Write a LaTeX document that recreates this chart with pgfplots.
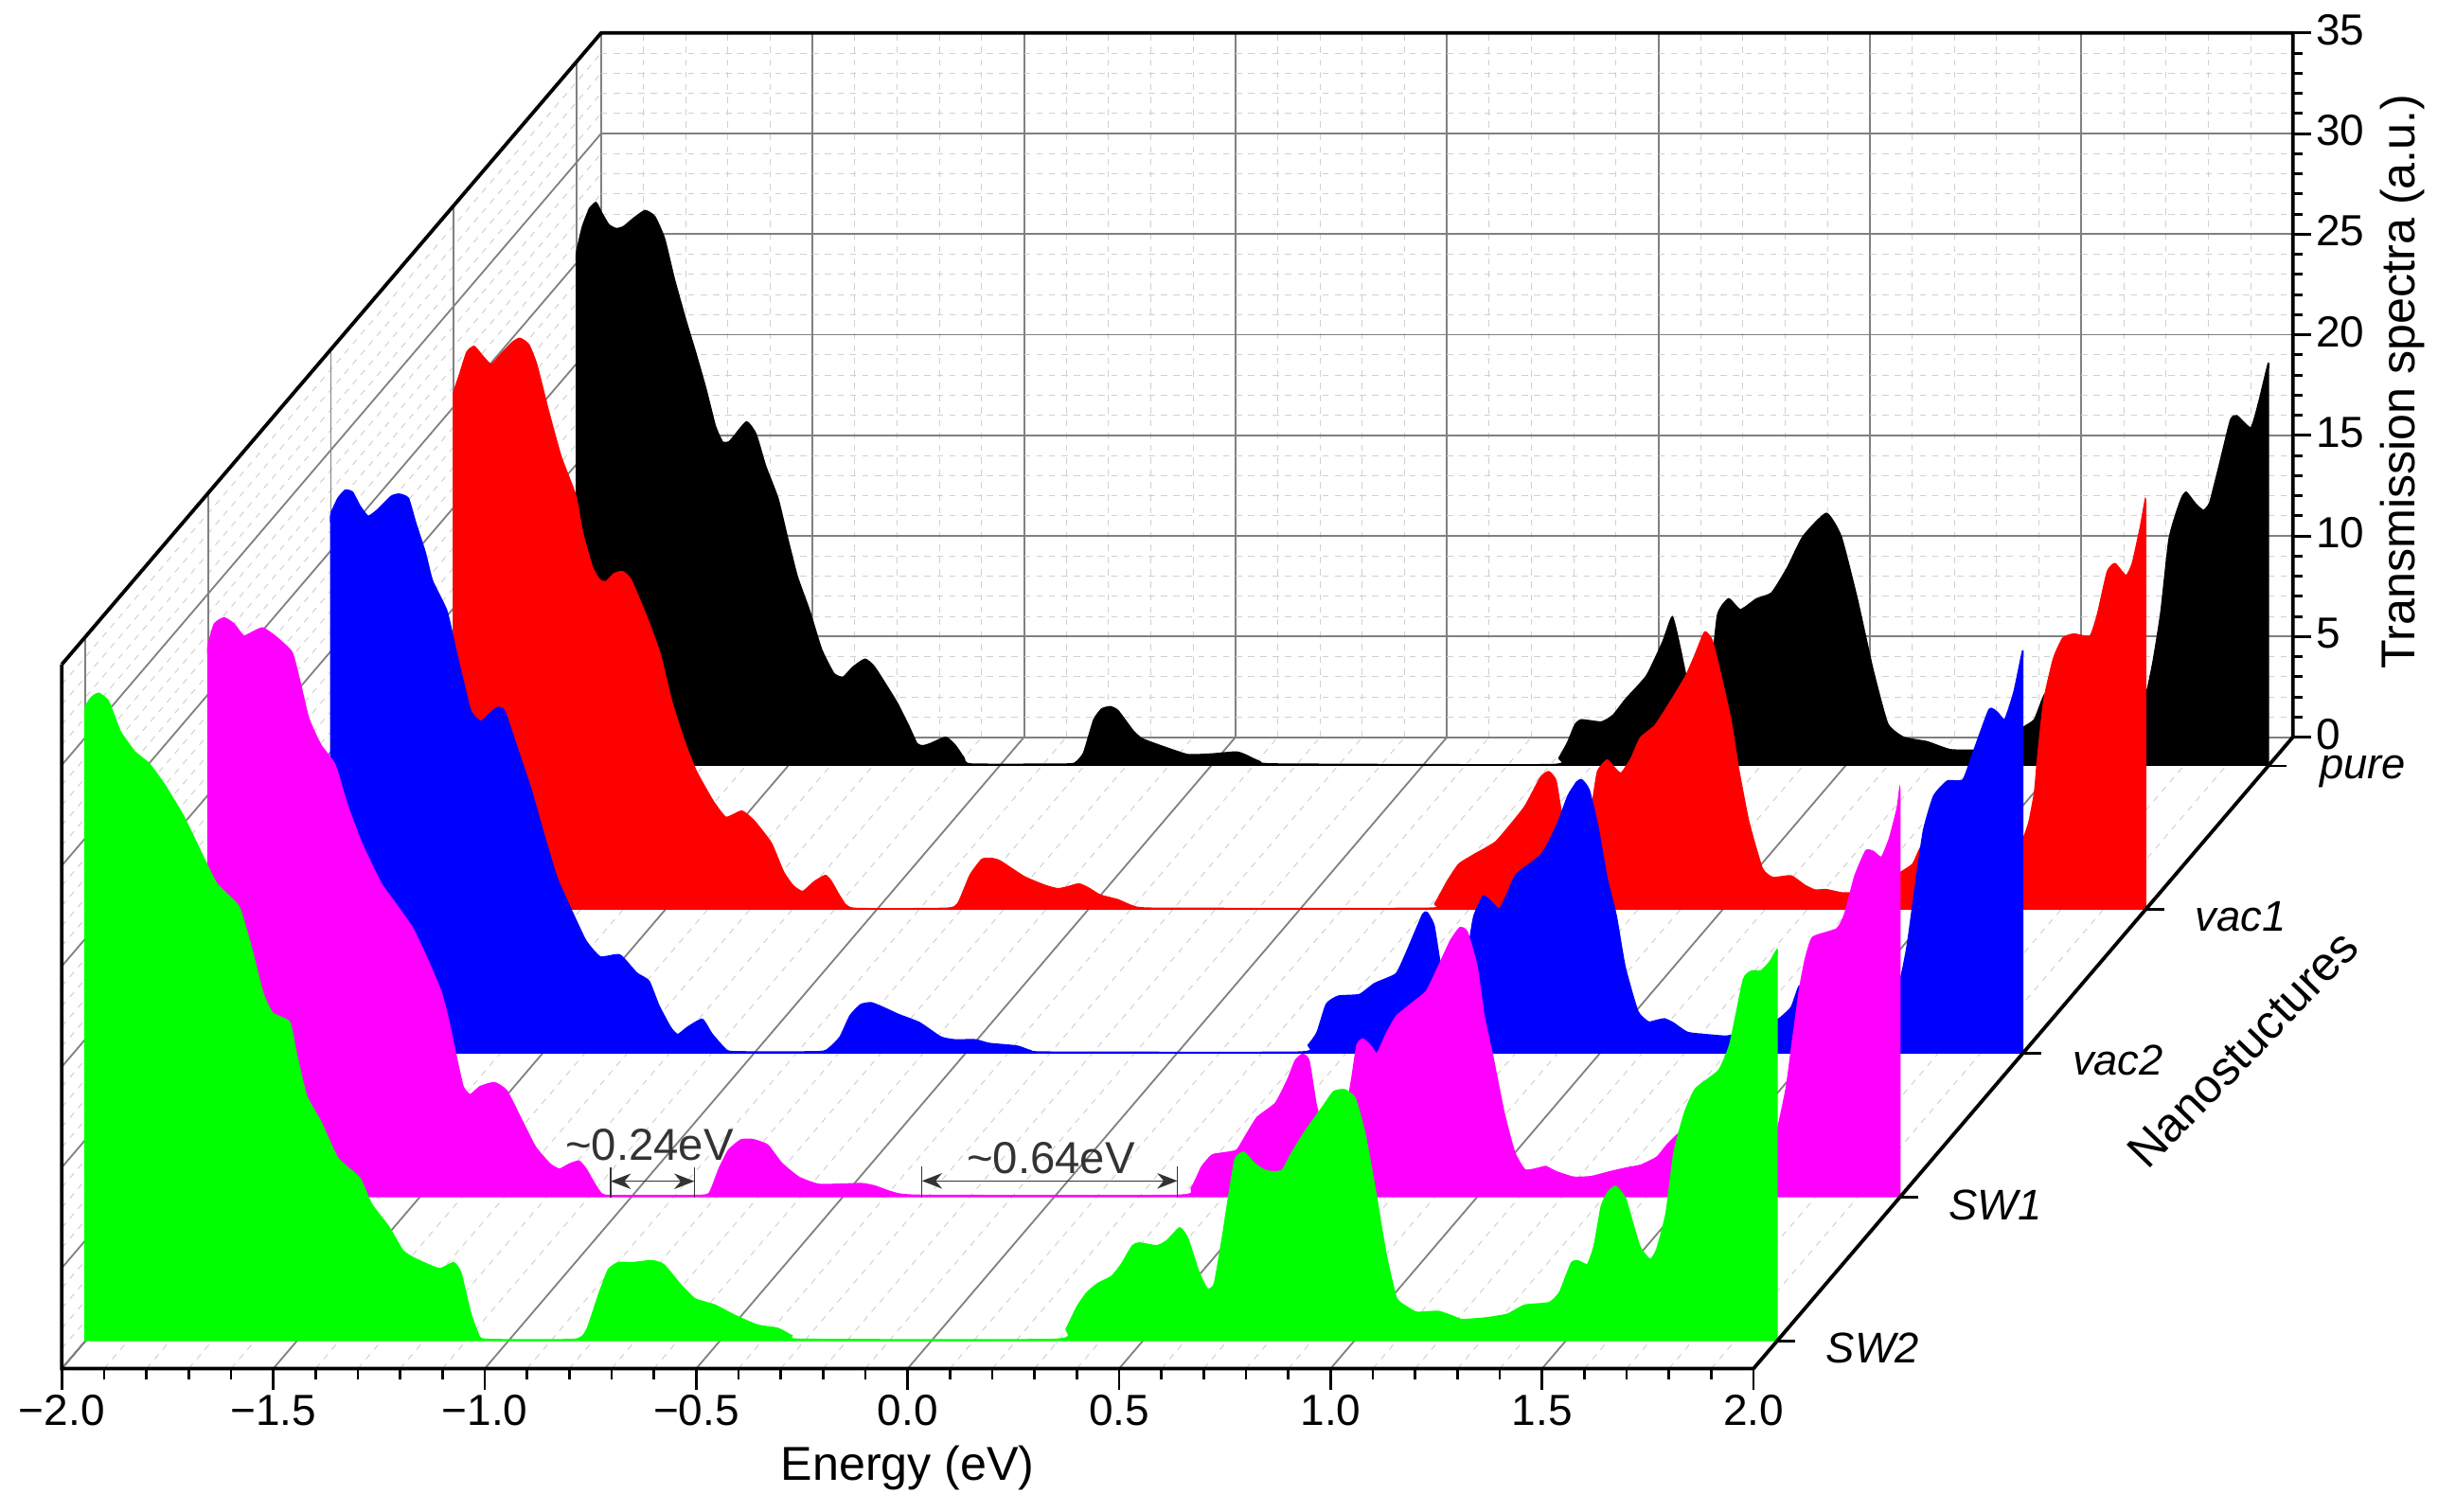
\documentclass[border=0pt]{standalone}
\usepackage{fontspec}
\setmainfont{Liberation Sans}
\usepackage{pgfplots}
\usepackage{pgfplotstable}
\pgfplotsset{compat=1.18}
\usetikzlibrary{arrows.meta}

\pgfplotstableread{
E T
-2 0
-2 20.4
-2 24.7
-2 25.5
-1.986 26.8
-1.969 27.7
-1.954 28.0
-1.941 27.5
-1.924 26.9
-1.906 26.7
-1.889 26.8
-1.866 27.2
-1.838 27.6
-1.815 27.3
-1.792 26.2
-1.769 24.2
-1.741 22.1
-1.718 20.5
-1.695 18.8
-1.672 16.9
-1.655 16.1
-1.640 16.1
-1.627 16.4
-1.598 17.1
-1.576 16.5
-1.553 14.9
-1.524 13.3
-1.501 11.3
-1.478 9.4
-1.449 7.7
-1.421 5.8
-1.392 4.6
-1.370 4.4
-1.347 4.9
-1.318 5.3
-1.295 4.9
-1.244 3.2
-1.215 2.0
-1.195 1.1
-1.181 1.0
-1.164 1.1
-1.127 1.42
-1.105 1.03
-1.084 0.4
-1.067 0.09
-0.841 0.09
-0.82 0.17
-0.801 0.64
-0.777 2.29
-0.758 2.83
-0.738 2.94
-0.72 2.75
-0.684 1.74
-0.662 1.34
-0.612 0.95
-0.555 0.56
-0.498 0.59
-0.441 0.69
-0.42 0.56
-0.384 0.21
-0.341 0.09
0.301 0.06
0.323 0.4
0.344 1.19
0.361 2.05
0.376 2.29
0.423 2.18
0.451 2.52
0.48 3.3
0.53 4.48
0.569 6.2
0.591 7.4
0.61 5.8
0.625 4.3
0.645 3.2
0.665 2.9
0.68 4.0
0.698 7.5
0.724 8.3
0.752 7.76
0.79 8.3
0.826 8.6
0.863 9.85
0.9 11.4
0.955 12.55
0.99 11.4
1.028 8.3
1.065 4.8
1.1 2.1
1.138 1.42
1.193 1.2
1.249 0.8
1.322 0.8
1.377 1.1
1.42 1.9
1.447 2.3
1.47 3.5
1.5 4.2
1.55 4.8
1.6 5.2
1.65 4.3
1.7 3.4
1.713 3.7
1.728 5.2
1.746 7.6
1.765 11.2
1.78 12.4
1.795 13.3
1.806 13.6
1.829 13.0
1.847 12.7
1.862 13.1
1.885 15
1.911 17.2
1.926 17.4
1.959 16.8
1.978 18.1
2 20
2 19.4
2 16
2 0
}\pure

\pgfplotstableread{
E T
-2 0
-2 20.6
-2 24.9
-2 25.7
-1.986 26.6
-1.969 27.7
-1.952 28
-1.935 27.6
-1.912 27.1
-1.889 27.6
-1.861 28.2
-1.844 28.4
-1.823 28.1
-1.804 27.1
-1.775 24.7
-1.746 22.5
-1.712 20.6
-1.695 18.7
-1.672 17
-1.655 16.4
-1.64 16.3
-1.621 16.7
-1.601 16.8
-1.581 16.4
-1.541 14.4
-1.512 12.7
-1.484 10.3
-1.455 8.4
-1.427 6.9
-1.387 5.4
-1.358 4.6
-1.341 4.7
-1.318 4.9
-1.289 4.4
-1.249 3.3
-1.221 1.9
-1.198 1.2
-1.175 0.9
-1.147 1.4
-1.121 1.7
-1.107 1.4
-1.084 0.57
-1.055 0.07
-0.836 0.07
-0.808 0.3
-0.779 1.72
-0.751 2.5
-0.729 2.55
-0.708 2.42
-0.651 1.64
-0.601 1.2
-0.572 1.04
-0.551 1.12
-0.522 1.28
-0.5 1.09
-0.472 0.73
-0.429 0.49
-0.394 0.18
-0.337 0.07
0.299 0.07
0.32 0.3
0.349 1.4
0.377 2.27
0.413 2.74
0.463 3.36
0.499 4.23
0.534 5.17
0.57 6.58
0.589 6.86
0.606 6.42
0.62 4.7
0.64 3.2
0.665 2.9
0.68 3.4
0.694 5.48
0.705 6.89
0.727 7.44
0.741 7.13
0.76 6.78
0.784 7.52
0.806 8.54
0.841 9.17
0.877 10.34
0.913 11.6
0.934 12.6
0.958 13.8
0.975 13.4
0.99 12.2
1.02 9.4
1.037 7.1
1.062 4.37
1.094 2.05
1.119 1.6
1.162 1.68
1.194 1.22
1.219 0.97
1.244 1.0
1.281 0.84
1.306 0.84
1.35 1.1
1.4 1.5
1.421 1.85
1.45 2.27
1.469 3.1
1.5 3.5
1.55 3.9
1.6 4.8
1.65 4.3
1.7 3.3
1.713 3.63
1.725 4.37
1.738 5.84
1.745 7.5
1.76 10.4
1.783 12.5
1.805 13.5
1.831 13.7
1.869 13.6
1.887 14.7
1.91 16.8
1.928 17.2
1.954 16.6
1.969 17.2
1.988 19.0
2 20.4
2 19.8
2 16.3
2 0
}\vacone

\pgfplotstableread{
E T
-2 0
-2 21.4
-2 26
-2 26.8
-1.983 27.6
-1.966 28.0
-1.949 27.9
-1.931 27.2
-1.912 26.7
-1.891 27.0
-1.857 27.7
-1.838 27.8
-1.817 27.6
-1.8 26.4
-1.777 24.9
-1.76 23.5
-1.726 22.0
-1.703 19.9
-1.686 18.4
-1.669 17.0
-1.646 16.5
-1.629 16.8
-1.606 17.2
-1.589 17.0
-1.56 15.2
-1.528 13.2
-1.494 10.7
-1.465 8.7
-1.431 7.1
-1.397 5.6
-1.363 4.8
-1.317 4.9
-1.277 4.0
-1.248 3.6
-1.225 2.4
-1.197 1.3
-1.18 0.94
-1.157 1.3
-1.122 1.7
-1.1 1.0
-1.071 0.3
-1.049 0.09
-0.846 0.09
-0.821 0.28
-0.796 0.82
-0.772 1.89
-0.747 2.43
-0.722 2.52
-0.69 2.25
-0.657 1.93
-0.608 1.53
-0.558 0.82
-0.525 0.68
-0.476 0.68
-0.443 0.5
-0.378 0.37
-0.345 0.14
-0.304 0.07
0.288 0.07
0.311 0.42
0.332 1.05
0.354 2.46
0.382 2.85
0.432 2.93
0.468 3.48
0.518 3.95
0.539 4.82
0.561 5.91
0.582 6.93
0.592 7.01
0.608 6.38
0.622 4.58
0.64 3.0
0.66 2.5
0.68 3.2
0.693 5.6
0.703 6.85
0.725 7.83
0.746 7.48
0.763 7.17
0.782 7.95
0.803 8.9
0.86 9.84
0.882 10.6
0.903 11.56
0.925 12.8
0.946 13.5
0.958 13.6
0.975 13.1
0.996 11.25
1.017 8.74
1.039 6.85
1.06 4.3
1.09 2.1
1.115 1.57
1.132 1.63
1.153 1.72
1.174 1.52
1.209 1.04
1.272 0.9
1.303 0.87
1.36 1.2
1.42 1.67
1.453 2.3
1.472 3.35
1.5 3.5
1.55 3.9
1.6 5
1.65 4.5
1.69 3.2
1.712 3.77
1.728 5.45
1.747 8.4
1.766 11.1
1.79 12.8
1.822 13.54
1.859 13.6
1.884 15.0
1.921 17.1
1.94 16.96
1.958 16.6
1.98 18
2 20
2 19.4
2 16
2 0
}\vactwo

\pgfplotstableread{
E T
-2 0
-2 21.9
-2 26.6
-2 27.4
-1.985 28.5
-1.962 28.8
-1.939 28.5
-1.916 27.9
-1.894 28.1
-1.871 28.3
-1.842 27.9
-1.802 27.1
-1.785 25.8
-1.762 23.8
-1.734 22.5
-1.7 21.5
-1.671 19.5
-1.637 17.6
-1.591 15.6
-1.557 14.6
-1.517 13.4
-1.483 11.9
-1.449 10.2
-1.431 8.75
-1.414 7.05
-1.397 5.5
-1.38 5.1
-1.357 5.5
-1.323 5.7
-1.294 5.3
-1.26 3.9
-1.226 2.5
-1.191 1.65
-1.169 1.4
-1.146 1.65
-1.123 1.8
-1.106 1.4
-1.077 0.37
-1.054 0.09
-0.849 0.09
-0.815 0.2
-0.792 1.4
-0.769 2.35
-0.74 2.85
-0.712 2.87
-0.677 2.6
-0.644 1.7
-0.603 1.0
-0.554 0.64
-0.455 0.68
-0.422 0.55
-0.381 0.25
-0.315 0.1
0.292 0.1
0.325 0.46
0.35 1.53
0.374 2.1
0.399 2.2
0.432 2.34
0.453 3.04
0.481 3.98
0.524 4.68
0.553 5.86
0.571 6.8
0.588 7.11
0.603 6.8
0.62 4.6
0.64 3.0
0.66 2.4
0.68 3.0
0.703 5.7
0.717 7.58
0.731 7.87
0.75 7.5
0.764 7.14
0.788 8.21
0.81 9
0.845 9.62
0.881 10.25
0.91 11.5
0.938 12.76
0.96 13.4
0.977 13.2
1.0 11.5
1.017 9
1.038 6.96
1.064 4.22
1.089 2.25
1.114 1.36
1.146 1.45
1.163 1.53
1.188 1.27
1.229 1.0
1.27 1.03
1.313 1.26
1.352 1.45
1.388 1.6
1.426 2.0
1.45 2.61
1.476 3.15
1.5 3.6
1.55 4.0
1.6 5
1.65 4.5
1.7 3.3
1.713 3.57
1.732 5.46
1.744 7.35
1.763 10.3
1.776 11.76
1.794 12.92
1.851 13.34
1.87 14.08
1.894 15.97
1.92 17.23
1.938 17.18
1.957 16.9
1.976 17.86
1.994 19.33
2 20.27
2 19.7
2 16.2
2 0
}\swone

\pgfplotstableread{
E T
-2 0
-2 25.2
-2 30.6
-2 31.5
-1.985 32
-1.968 32.2
-1.945 31.8
-1.917 30.3
-1.883 29.3
-1.849 28.7
-1.814 27.7
-1.768 26.1
-1.722 24.1
-1.688 22.7
-1.637 21.6
-1.608 19.6
-1.58 17.3
-1.557 16.3
-1.517 15.85
-1.5 14.2
-1.477 12.2
-1.443 10.9
-1.403 9.1
-1.351 8.1
-1.323 6.8
-1.283 5.7
-1.249 4.5
-1.22 4.1
-1.163 3.6
-1.129 3.9
-1.112 3.4
-1.089 1.4
-1.072 0.43
-1.054 0.09
-0.843 0.09
-0.814 0.57
-0.786 2.3
-0.763 3.55
-0.74 3.9
-0.706 3.9
-0.66 4.0
-0.632 3.8
-0.592 2.8
-0.558 2.1
-0.512 1.8
-0.466 1.3
-0.411 0.8
-0.362 0.63
-0.329 0.27
-0.304 0.09
0.295 0.09
0.32 0.63
0.345 1.7
0.369 2.42
0.394 2.86
0.427 3.22
0.451 3.85
0.476 4.74
0.492 4.88
0.534 4.74
0.558 5.0
0.588 5.63
0.607 5.1
0.632 3.49
0.653 2.59
0.67 2.86
0.69 5.28
0.703 7.07
0.719 9.03
0.739 9.39
0.763 8.86
0.788 8.5
0.813 8.41
0.832 8.53
0.854 9.39
0.887 10.5
0.928 11.7
0.952 12.4
0.977 12.5
1.002 12.1
1.026 10.3
1.051 7.42
1.075 4.38
1.1 2.15
1.125 1.7
1.149 1.43
1.199 1.48
1.232 1.25
1.256 1.07
1.314 1.16
1.363 1.34
1.404 1.79
1.461 1.91
1.486 2.42
1.514 3.88
1.53 3.99
1.552 3.81
1.568 4.74
1.585 6.71
1.601 7.42
1.619 7.69
1.642 7.07
1.675 4.74
1.7 4.06
1.716 4.56
1.738 6.35
1.757 9.39
1.782 11.36
1.806 12.5
1.839 13.06
1.864 13.5
1.889 14.76
1.921 17.98
1.941 18.4
1.962 18.4
1.984 18.87
2 19.45
2 18.9
2 15.6
2 0
}\swtwo

\definecolor{majgrid}{HTML}{808080}
\definecolor{mingrid}{HTML}{D0D0D0}
\definecolor{note}{HTML}{333333}
\definecolor{cblack}{RGB}{0,0,0}
\definecolor{cred}{RGB}{255,0,0}
\definecolor{cblue}{RGB}{0,0,255}
\definecolor{cmag}{RGB}{255,0,255}
\definecolor{cgreen}{RGB}{0,255,0}

\begin{document}
\begin{tikzpicture}
\begin{axis}[
    x={(136pt,0pt)}, y={(39.5pt,46.25pt)}, z={(0pt,6.47pt)},
    xmin=-2, xmax=2, ymin=0.81, ymax=5.2, zmin=0, zmax=35,
    clip=false,
    font=\fontsize{14}{16}\selectfont,
    /pgf/number format/assume math mode=true,
    xtick={-2,-1.5,-1,-0.5,0,0.5,1,1.5,2},
    xticklabels={−2.0,−1.5,−1.0,−0.5,0.0,0.5,1.0,1.5,2.0},
    minor x tick num=4,
    ytick={1,2,3,4,5},
    yticklabels={SW2,SW1,vac2,vac1,pure},
    ztick={0,5,...,35},
    minor z tick num=4,
    zticklabel pos=right,
    x tick label style={anchor=north, yshift=-5pt},
    y tick label style={font=\fontsize{13.8}{15}\selectfont\itshape, xshift=17pt, yshift=11.5pt},
    z tick label style={anchor=west, xshift=4pt, yshift=1pt},
    xmajorgrids, xminorgrids, zmajorgrids, zminorgrids,
    major grid style={majgrid, line width=0.55pt},
    minor grid style={mingrid, line width=0.3pt, dash pattern=on 2pt off 2pt},
    tick style={draw=none},
    xlabel={Energy (eV)},
    ylabel={Nanostuctures},
    zlabel={Transmission spectra (a.u.)},
    label style={font=\fontsize{15.3}{17}\selectfont},
    xlabel style={at={(axis cs:0,0.81,-4.95)}, anchor=center},
    ylabel style={at={(axis cs:2.5125,3.03,0)}, anchor=center, rotate=46},
    zlabel style={at={(axis cs:2.259,5.2,17.68)}, anchor=center},
]
\pgfplotsinvokeforeach{1,2,3,4,5}{
  \draw[majgrid, line width=0.5pt] (axis cs:-2,#1,0) -- (axis cs:-2,#1,35);
}
\addplot3[fill=cblack, draw=cblack, line width=0.5pt, smooth, tension=0.3] table[x=E, y expr=5, z=T] {\pure};
\addplot3[fill=cred, draw=cred, line width=0.5pt, smooth, tension=0.3] table[x=E, y expr=4, z=T] {\vacone};
\addplot3[fill=cblue, draw=cblue, line width=0.5pt, smooth, tension=0.3] table[x=E, y expr=3, z=T] {\vactwo};
\addplot3[fill=cmag, draw=cmag, line width=0.5pt, smooth, tension=0.3] table[x=E, y expr=2, z=T] {\swone};
\addplot3[fill=cgreen, draw=cgreen, line width=0.5pt, smooth, tension=0.3] table[x=E, y expr=1, z=T] {\swtwo};

% ticks
\pgfplotsinvokeforeach{-2,-1.5,-1,-0.5,0,0.5,1,1.5,2}{
  \draw[line width=0.8pt] (axis cs:#1,0.81,0) -- ++(0pt,-7pt);
}
\pgfplotsinvokeforeach{-1.9,-1.8,-1.7,-1.6,-1.4,-1.3,-1.2,-1.1,-0.9,-0.8,-0.7,-0.6,-0.4,-0.3,-0.2,-0.1,0.1,0.2,0.3,0.4,0.6,0.7,0.8,0.9,1.1,1.2,1.3,1.4,1.6,1.7,1.8,1.9}{
  \draw[line width=0.8pt] (axis cs:#1,0.81,0) -- ++(0pt,-3.5pt);
}
\pgfplotsinvokeforeach{1,2,3,4,5}{
  \draw[line width=0.9pt] (axis cs:2,#1,0) -- ++(6pt,0pt);
}
\pgfplotsinvokeforeach{0,5,10,15,20,25,30,35}{
  \draw[line width=0.9pt] (axis cs:2,5.2,#1) -- ++(6pt,0pt);
}
\pgfplotsinvokeforeach{1,2,3,4,6,7,8,9,11,12,13,14,16,17,18,19,21,22,23,24,26,27,28,29,31,32,33,34}{
  \draw[line width=0.9pt] (axis cs:2,5.2,#1) -- ++(3pt,0pt);
}

\draw[line width=1.15pt] (axis cs:-2,0.81,35) -- (axis cs:-2,0.81,0) -- (axis cs:2,0.81,0) -- (axis cs:2,5.2,0);
\draw[line width=1.15pt] (axis cs:-2,0.81,35) -- (axis cs:-2,5.2,35) -- (axis cs:2,5.2,35) -- (axis cs:2,5.2,0);

\draw[note, line width=0.4pt] (axis cs:-1.048,2,0) -- (axis cs:-1.048,2,1.5);
\draw[note, line width=0.4pt] (axis cs:-0.850,2,0) -- (axis cs:-0.850,2,1.5);
\draw[note, line width=0.4pt, {Stealth[length=6.5pt,width=5pt]}-{Stealth[length=6.5pt,width=5pt]}] (axis cs:-1.048,2,0.8) -- (axis cs:-0.850,2,0.8);
\node[note, font=\fontsize{14.4}{16}\selectfont] at (axis cs:-0.956,2,2.63) {\textasciitilde 0.24eV};
\draw[note, line width=0.4pt] (axis cs:-0.312,2,0) -- (axis cs:-0.312,2,1.53);
\draw[note, line width=0.4pt] (axis cs:0.292,2,0) -- (axis cs:0.292,2,1.53);
\draw[note, line width=0.4pt, {Stealth[length=6.5pt,width=5pt]}-{Stealth[length=6.5pt,width=5pt]}] (axis cs:-0.312,2,0.82) -- (axis cs:0.292,2,0.82);
\node[note, font=\fontsize{14.4}{16}\selectfont] at (axis cs:-0.007,2,1.93) {\textasciitilde 0.64eV};

\coordinate (A) at (axis cs:-2,0.81,0);
\end{axis}
\pgfresetboundingbox
\useasboundingbox ([shift={(-19.9pt,-45.9pt)}]A) rectangle ([shift={(764.1pt,440.1pt)}]A);
\end{tikzpicture}
\end{document}
